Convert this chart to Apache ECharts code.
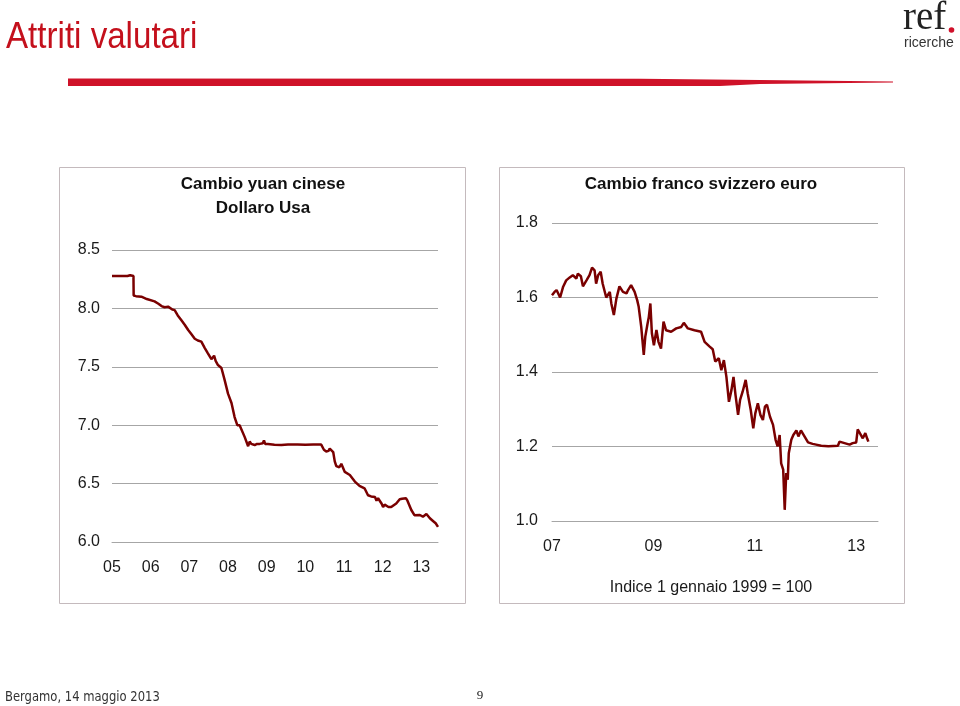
<!DOCTYPE html>
<html>
<head>
<meta charset="utf-8">
<script src="https://cdn.jsdelivr.net/npm/echarts@6/dist/echarts.min.js"></script>
<style>
html,body{margin:0;padding:0;background:#fff;}
#chart{width:960px;height:706px;}
</style>
</head>
<body>
<div id="chart"></div>
<script>
// ---- Data (decimal years) ----
const yuanDates = [2005.0,2005.2,2005.4,2005.47,2005.5,2005.555,2005.56,2005.62,2005.76,2005.9,2006.1,2006.2,2006.28,2006.36,2006.4,2006.45,2006.5,2006.56,2006.62,2006.7,2006.79,2006.88,2006.97,2007.05,2007.14,2007.22,2007.31,2007.4,2007.48,2007.57,2007.61,2007.64,2007.68,2007.74,2007.83,2007.91,2008.0,2008.09,2008.17,2008.24,2008.3,2008.34,2008.43,2008.52,2008.56,2008.6,2008.65,2008.69,2008.75,2008.82,2008.9,2008.93,2008.96,2009.03,2009.2,2009.38,2009.55,2009.8,2010.0,2010.2,2010.41,2010.44,2010.48,2010.54,2010.6,2010.63,2010.67,2010.72,2010.76,2010.8,2010.84,2010.88,2010.93,2011.02,2011.15,2011.28,2011.4,2011.53,2011.62,2011.7,2011.75,2011.8,2011.84,2011.88,2011.92,2011.97,2012.01,2012.05,2012.1,2012.15,2012.22,2012.35,2012.44,2012.5,2012.55,2012.6,2012.64,2012.74,2012.82,2012.87,2012.96,2013.04,2013.13,2013.22,2013.3,2013.37,2013.43];
const yuanValues = [8.277,8.277,8.277,8.284,8.277,8.277,8.11,8.105,8.10,8.08,8.06,8.04,8.02,8.01,8.025,8.015,8.01,7.99,7.985,7.94,7.90,7.86,7.815,7.78,7.74,7.725,7.715,7.66,7.615,7.565,7.58,7.595,7.55,7.515,7.49,7.39,7.27,7.19,7.07,7.0,7.0,6.99,6.90,6.82,6.86,6.84,6.825,6.83,6.84,6.84,6.845,6.87,6.84,6.84,6.833,6.83,6.834,6.834,6.833,6.834,6.834,6.834,6.79,6.775,6.78,6.80,6.81,6.77,6.69,6.65,6.665,6.64,6.67,6.60,6.574,6.517,6.48,6.46,6.40,6.39,6.38,6.385,6.354,6.375,6.366,6.33,6.30,6.32,6.317,6.30,6.30,6.33,6.366,6.37,6.38,6.375,6.354,6.274,6.23,6.217,6.231,6.217,6.24,6.203,6.18,6.16,6.13];

const chfDates = [2007.0,2007.05,2007.09,2007.12,2007.16,2007.22,2007.28,2007.35,2007.41,2007.48,2007.51,2007.57,2007.61,2007.68,2007.74,2007.79,2007.84,2007.87,2007.91,2007.96,2008.0,2008.07,2008.14,2008.17,2008.22,2008.27,2008.33,2008.4,2008.47,2008.5,2008.56,2008.63,2008.68,2008.71,2008.76,2008.81,2008.84,2008.88,2008.91,2008.94,2008.97,2009.01,2009.06,2009.1,2009.15,2009.2,2009.25,2009.35,2009.45,2009.55,2009.6,2009.68,2009.81,2009.94,2010.01,2010.11,2010.17,2010.22,2010.29,2010.34,2010.39,2010.44,2010.49,2010.54,2010.58,2010.62,2010.67,2010.71,2010.76,2010.82,2010.86,2010.92,2010.97,2011.01,2011.06,2011.11,2011.16,2011.2,2011.24,2011.3,2011.36,2011.41,2011.45,2011.49,2011.52,2011.56,2011.59,2011.62,2011.65,2011.67,2011.72,2011.76,2011.82,2011.86,2011.91,2011.98,2012.05,2012.14,2012.21,2012.31,2012.45,2012.64,2012.67,2012.77,2012.87,2012.93,2013.0,2013.03,2013.08,2013.13,2013.18,2013.22,2013.24];
const chfValues = [1.606,1.615,1.62,1.624,1.60,1.629,1.646,1.654,1.66,1.651,1.664,1.657,1.63,1.646,1.66,1.68,1.673,1.637,1.66,1.669,1.637,1.60,1.615,1.584,1.553,1.597,1.63,1.615,1.611,1.62,1.633,1.615,1.593,1.575,1.521,1.446,1.495,1.526,1.548,1.584,1.504,1.472,1.513,1.481,1.463,1.535,1.512,1.508,1.517,1.521,1.532,1.517,1.512,1.508,1.481,1.468,1.461,1.428,1.437,1.405,1.432,1.387,1.32,1.352,1.387,1.338,1.285,1.325,1.347,1.379,1.343,1.298,1.249,1.289,1.316,1.285,1.271,1.307,1.312,1.28,1.258,1.218,1.20,1.231,1.155,1.138,1.03,1.129,1.111,1.182,1.218,1.231,1.243,1.227,1.243,1.227,1.211,1.207,1.205,1.202,1.201,1.202,1.213,1.209,1.205,1.209,1.211,1.246,1.234,1.222,1.236,1.22,1.213];

const yuanYearLabels = ['05','06','07','08','09','10','11','12','13'];
const chfYearLabels = ['07','09','11','13'];
const yuanTitle = 'Cambio yuan cinese\nDollaro Usa';
const chfTitle = 'Cambio franco svizzero euro';
const chfNote = 'Indice 1 gennaio 1999 = 100';

const yuanSeries = yuanDates.map((d, i) => [d, yuanValues[i]]);
const chfSeries = chfDates.map((d, i) => [d, chfValues[i]]);

const chart = echarts.init(document.getElementById('chart'), null, {renderer: 'canvas'});
const axisFont = {fontFamily: 'Liberation Sans, Arial, sans-serif', fontSize: 16, color: '#1a1a1a'};
const gridLine = {show: true, lineStyle: {color: '#a6a6a6', width: 1}};
const lineColor = '#7a0000';

function yearFmt(labels, start, step) {
  return function (v) {
    const r = Math.round(v);
    if (Math.abs(v - r) > 1e-6) return '';
    const idx = (r - start) / step;
    return labels[idx] !== undefined ? labels[idx] : '';
  };
}

chart.setOption({
  animation: false,
  backgroundColor: '#ffffff',
  grid: [
    {left: 112, width: 326, top: 250, height: 292},
    {left: 552, width: 326, top: 223, height: 298}
  ],
  xAxis: [
    {gridIndex: 0, type: 'value', min: 2005, max: 2013.43, interval: 1,
     axisLine: {show: true, lineStyle: {color: '#a6a6a6'}}, axisTick: {show: false}, splitLine: {show: false},
     axisLabel: Object.assign({margin: 18, showMaxLabel: false, formatter: yearFmt(yuanYearLabels, 2005, 1)}, axisFont)},
    {gridIndex: 1, type: 'value', min: 2007, max: 2013.43, interval: 2,
     axisLine: {show: true, lineStyle: {color: '#a6a6a6'}}, axisTick: {show: false}, splitLine: {show: false},
     axisLabel: Object.assign({margin: 18, showMaxLabel: false, formatter: yearFmt(chfYearLabels, 2007, 2)}, axisFont)}
  ],
  yAxis: [
    {gridIndex: 0, type: 'value', min: 6, max: 8.5, interval: 0.5,
     axisLine: {show: false}, axisTick: {show: false}, splitLine: gridLine,
     axisLabel: Object.assign({margin: 12, formatter: v => v.toFixed(1)}, axisFont)},
    {gridIndex: 1, type: 'value', min: 1.0, max: 1.8, interval: 0.2,
     axisLine: {show: false}, axisTick: {show: false}, splitLine: gridLine,
     axisLabel: Object.assign({margin: 14, formatter: v => v.toFixed(1)}, axisFont)}
  ],
  series: [
    {type: 'line', xAxisIndex: 0, yAxisIndex: 0, data: yuanSeries, showSymbol: false,
     lineStyle: {color: lineColor, width: 2.5}, itemStyle: {color: lineColor}},
    {type: 'line', xAxisIndex: 1, yAxisIndex: 1, data: chfSeries, showSymbol: false,
     lineStyle: {color: lineColor, width: 2.5}, itemStyle: {color: lineColor}}
  ],
  graphic: [
    // panel frames
    {type: 'rect', shape: {x: 59.5, y: 167.5, width: 406, height: 436}, style: {fill: 'none', stroke: '#c4babd', lineWidth: 1}, z: -1},
    {type: 'rect', shape: {x: 499.5, y: 167.5, width: 405, height: 436}, style: {fill: 'none', stroke: '#c4babd', lineWidth: 1}, z: -1},
    // panel titles
    {type: 'text', x: 263, y: 172, style: {text: yuanTitle, align: 'center', verticalAlign: 'top', fontFamily: 'Liberation Sans, Arial, sans-serif', fontWeight: 'bold', fontSize: 17, lineHeight: 24, fill: '#111'}},
    {type: 'text', x: 701, y: 184, style: {text: chfTitle, align: 'center', verticalAlign: 'middle', fontFamily: 'Liberation Sans, Arial, sans-serif', fontWeight: 'bold', fontSize: 17, fill: '#111'}},
    {type: 'text', x: 711, y: 588, style: {text: chfNote, align: 'center', verticalAlign: 'middle', fontFamily: 'Liberation Sans, Arial, sans-serif', fontSize: 16, fill: '#1a1a1a'}},
    // page header
    {type: 'text', x: 6, y: 38, scaleX: 0.92, originX: 0, style: {text: 'Attriti valutari', verticalAlign: 'middle', fontFamily: 'Liberation Sans, Arial, sans-serif', fontSize: 36, fill: '#c4101c'}},
    {type: 'polygon', shape: {points: [[68, 78.5], [640, 78.7], [760, 80], [893, 81.6], [893, 82.4], [760, 84], [720, 86], [68, 86]]}, style: {fill: '#cf1229'}},
    // logo
    {type: 'text', x: 903, y: 38, style: {text: 'ref', verticalAlign: 'bottom', fontFamily: 'Liberation Serif, DejaVu Serif, serif', fontSize: 39, fill: '#222'}},
    {type: 'circle', shape: {cx: 951.5, cy: 30, r: 2.8}, style: {fill: '#d0102a'}},
    {type: 'text', x: 904, y: 43, style: {text: 'ricerche', verticalAlign: 'middle', fontFamily: 'Liberation Sans, Arial, sans-serif', fontSize: 14, fill: '#333'}},
    // footer
    {type: 'text', x: 5, y: 697, scaleX: 0.92, originX: 0, style: {text: 'Bergamo, 14 maggio 2013', verticalAlign: 'middle', fontFamily: 'DejaVu Sans Condensed, DejaVu Sans, sans-serif', fontSize: 14, fill: '#333'}},
    {type: 'text', x: 480, y: 696, style: {text: '9', align: 'center', verticalAlign: 'middle', fontFamily: 'Liberation Serif, serif', fontSize: 13, fill: '#222'}}
  ]
});
</script>
</body>
</html>
